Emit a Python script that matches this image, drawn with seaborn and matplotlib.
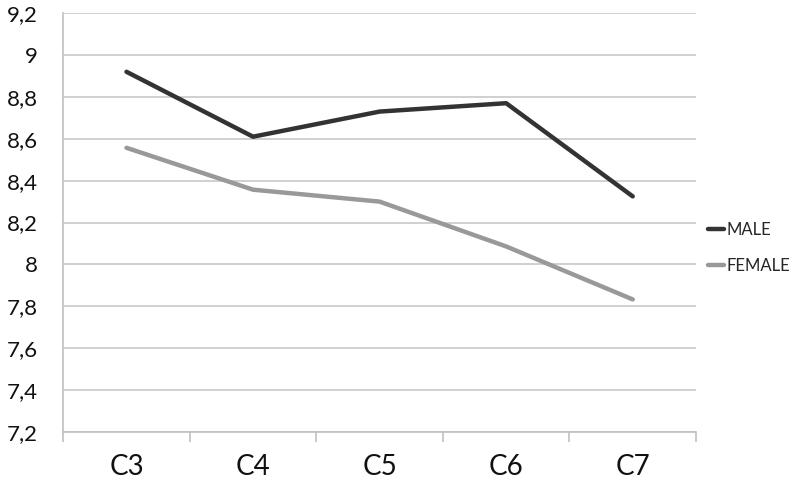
import pandas as pd
import numpy as np
import seaborn as sns
from matplotlib import pyplot as plt
from matplotlib.ticker import FixedLocator, FuncFormatter

# values
categories = ['C3', 'C4', 'C5', 'C6', 'C7']
male = [8.92, 8.61, 8.73, 8.77, 8.325]
female = [8.557, 8.357, 8.30, 8.086, 7.833]
y_ticks = [7.2, 7.4, 7.6, 7.8, 8.0, 8.2, 8.4, 8.6, 8.8, 9.0, 9.2]

data = pd.DataFrame({
    'cat': categories * 2,
    'score': male + female,
    'group': ['MALE'] * len(categories) + ['FEMALE'] * len(categories),
})

sns.set_style('white')
plt.rcParams['font.family'] = ['Lato', 'DejaVu Sans']

fig = plt.figure(figsize=(8, 4.87), dpi=100)
ax = fig.add_axes([0.079, 0.113, 0.791, 0.86])

sns.lineplot(data=data, x='cat', y='score', hue='group',
             palette={'MALE': '#333333', 'FEMALE': '#999999'},
             linewidth=3.2, ax=ax, legend=True, sort=False)

ax.set_xlim(-0.5, len(categories) - 0.5)
ax.set_ylim(7.2, 9.2)
ax.set_yticks(y_ticks)
ax.yaxis.set_major_formatter(FuncFormatter(lambda v, p: ('%g' % round(v, 1)).replace('.', ',')))
ax.xaxis.set_minor_locator(FixedLocator(np.arange(-0.5, len(categories), 1)))
ax.grid(axis='y', color='#c8c8c8', linewidth=1.2)
ax.set_axisbelow(True)

for side in ['top', 'right']:
    ax.spines[side].set_visible(False)
for side in ['left', 'bottom']:
    ax.spines[side].set_color('#c0c0c0')
    ax.spines[side].set_linewidth(1.2)

ax.tick_params(axis='y', length=7, width=1.2, color='#c0c0c0', pad=11,
               labelsize=16, labelcolor='#111111')
ax.tick_params(axis='x', which='major', length=0, pad=16,
               labelsize=20, labelcolor='#111111')
ax.tick_params(axis='x', which='minor', length=7, width=1.2, color='#c0c0c0',
               direction='out', bottom=True)
ax.set_xlabel('')
ax.set_ylabel('')

handles, labels = ax.get_legend_handles_labels()
ax.legend(handles, labels, loc='center left', bbox_to_anchor=(1.0, 0.44),
          frameon=False, fontsize=12, handlelength=1.0, handletextpad=0.1,
          labelspacing=1.2, borderaxespad=0.3)

fig.savefig('out.png', dpi=100)
